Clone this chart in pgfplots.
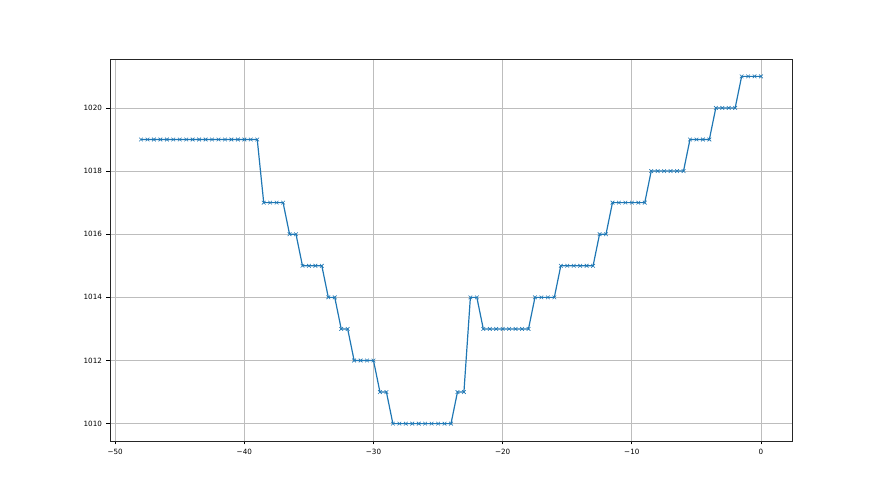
\documentclass[border=0pt]{standalone}
\usepackage{pgfplots}
\pgfplotsset{compat=1.18}
\usepackage{fontspec}
\setmainfont{DejaVu Sans}
\definecolor{mplblue}{HTML}{1F77B4}
\definecolor{gridgray}{HTML}{BDBDBD}
\begin{document}
\begin{tikzpicture}[x=1pt,y=1pt]
\path[use as bounding box] (-110pt,-54pt) rectangle (770pt,441pt);
\begin{axis}[
  at={(0pt,0pt)}, anchor=south west,
  scale only axis, width=682pt, height=382pt,
  xmin=-50.4, xmax=2.4, ymin=1009.45, ymax=1021.55,
  xtick={-50,-40,-30,-20,-10,0},
  xticklabels={−50,−40,−30,−20,−10,0},
  ytick={1010,1012,1014,1016,1018,1020},
  yticklabels={1010,1012,1014,1016,1018,1020},
  tick label style={font=\fontsize{7.2}{8}\selectfont, black},
  tick align=outside, xtick pos=bottom, ytick pos=left,
  major tick length=3.5pt,
  tick style={black, line width=0.8pt},
  grid=major, grid style={gridgray, line width=0.7pt},
  axis line style={black!85, line width=0.8pt},
  xticklabel shift=1pt, yticklabel shift=1pt,
]
\addplot[mplblue, line width=1.2pt, mark=x, mark size=2.6pt, mark options={line width=0.6pt}] coordinates {
(-48,1019)(-47.5,1019)(-47,1019)(-46.5,1019)(-46,1019)(-45.5,1019)(-45,1019)(-44.5,1019)(-44,1019)(-43.5,1019)
(-43,1019)(-42.5,1019)(-42,1019)(-41.5,1019)(-41,1019)(-40.5,1019)(-40,1019)(-39.5,1019)(-39,1019)
(-38.5,1017)(-38,1017)(-37.5,1017)(-37,1017)
(-36.5,1016)(-36,1016)
(-35.5,1015)(-35,1015)(-34.5,1015)(-34,1015)
(-33.5,1014)(-33,1014)
(-32.5,1013)(-32,1013)
(-31.5,1012)(-31,1012)(-30.5,1012)(-30,1012)
(-29.5,1011)(-29,1011)
(-28.5,1010)(-28,1010)(-27.5,1010)(-27,1010)(-26.5,1010)(-26,1010)(-25.5,1010)(-25,1010)(-24.5,1010)(-24,1010)
(-23.5,1011)(-23,1011)
(-22.5,1014)(-22,1014)
(-21.5,1013)(-21,1013)(-20.5,1013)(-20,1013)(-19.5,1013)(-19,1013)(-18.5,1013)(-18,1013)
(-17.5,1014)(-17,1014)(-16.5,1014)(-16,1014)
(-15.5,1015)(-15,1015)(-14.5,1015)(-14,1015)(-13.5,1015)(-13,1015)
(-12.5,1016)(-12,1016)
(-11.5,1017)(-11,1017)(-10.5,1017)(-10,1017)(-9.5,1017)(-9,1017)
(-8.5,1018)(-8,1018)(-7.5,1018)(-7,1018)(-6.5,1018)(-6,1018)
(-5.5,1019)(-5,1019)(-4.5,1019)(-4,1019)
(-3.5,1020)(-3,1020)(-2.5,1020)(-2,1020)
(-1.5,1021)(-1,1021)(-0.5,1021)(0,1021)
};
\end{axis}
\end{tikzpicture}
\end{document}
